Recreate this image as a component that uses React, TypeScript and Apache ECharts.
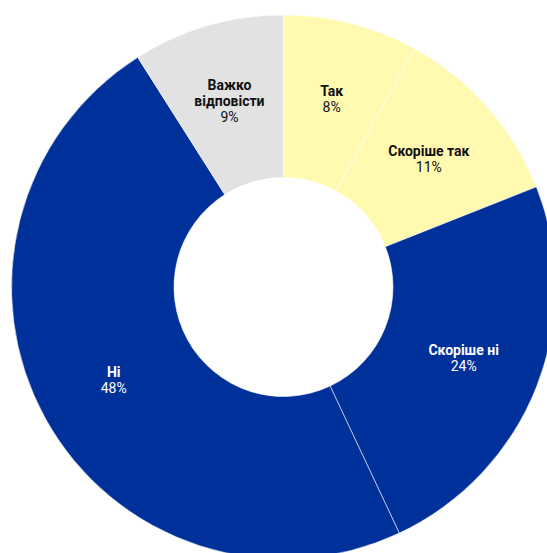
import React, { useEffect, useRef } from "react";
import * as echarts from "echarts";

const categories = ["Так", "Скоріше так", "Скоріше ні", "Ні", "Важко\nвідповісти"];
const values = [8, 11, 24, 48, 9];
const colors = ["#FFFAB0", "#FFFAB0", "#00309A", "#00309A", "#E2E2E2"];
const textColors = ["#111111", "#111111", "#FFFFFF", "#FFFFFF", "#111111"];

export default function App() {
  const ref = useRef<HTMLDivElement>(null);
  useEffect(() => {
    if (!ref.current) return;
    const chart = echarts.init(ref.current, undefined, { renderer: "svg" });
    chart.setOption({
      animation: false,
      series: [
        {
          type: "pie",
          center: [283.5, 287],
          radius: [109.5, 272],
          startAngle: 90,
          clockwise: true,
          avoidLabelOverlap: false,
          labelLine: { show: false },
          data: categories.map((c, i) => ({
            name: c,
            value: values[i],
            itemStyle: {
              color: colors[i],
              borderColor: "rgba(255,255,255,0.55)",
              borderWidth: 1,
            },
            label: {
              show: true,
              position: "inside",
              formatter: (p: any) =>
                p.name
                  .split("\n")
                  .map((s: string) => `{b|${s}}`)
                  .join("\n") + `\n{p|${p.value}%}`,
              rich: {
                b: {
                  fontFamily: "Roboto",
                  fontWeight: "bold",
                  fontSize: 14,
                  lineHeight: 16,
                  color: textColors[i],
                  align: "center",
                },
                p: {
                  fontFamily: "Roboto",
                  fontSize: 14,
                  lineHeight: 16,
                  color: textColors[i],
                  align: "center",
                },
              },
            },
          })),
        },
      ],
    });
    return () => chart.dispose();
  }, []);
  return (
    <div
      ref={ref}
      style={{ position: "absolute", left: 0, top: 0, width: 547, height: 553 }}
    />
  );
}
